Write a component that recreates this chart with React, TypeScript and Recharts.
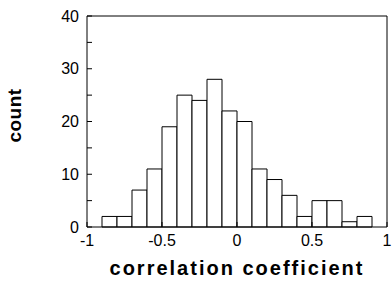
import React from 'react';
import { ComposedChart, Bar, XAxis, YAxis, Label } from 'recharts';

// histogram of correlation coefficients, bins of width 0.1 (bin centres)
const binCenters = [-0.95, -0.85, -0.75, -0.65, -0.55, -0.45, -0.35, -0.25, -0.15, -0.05, 0.05, 0.15, 0.25, 0.35, 0.45, 0.55, 0.65, 0.75, 0.85, 0.95];
const counts = [0, 2, 2, 7, 11, 19, 25, 24, 28, 22, 20, 11, 9, 6, 2, 5, 5, 1, 2, 0];
const xTicks = [-1, -0.5, 0, 0.5, 1];
const yTicks = [0, 5, 10, 15, 20, 25, 30, 35, 40];

const data = binCenters.map((c, i) => ({ x: c, count: counts[i] }));

const tickFont = { fontFamily: 'Liberation Sans, Arial, sans-serif', fontSize: 16, fill: '#000' };
const titleFont = { fontFamily: 'Liberation Sans, Arial, sans-serif', fontSize: 20, fontWeight: 'bold', fill: '#000', letterSpacing: 2 };

export default function App() {
  return (
    <div style={{ position: 'absolute', left: 0, top: 0, background: '#fff' }}>
      <ComposedChart width={392} height={285} data={data} barCategoryGap={0} barGap={0}
        margin={{ top: 15, right: 4, bottom: 0, left: 0 }}>
        <XAxis xAxisId="bottom" dataKey="x" type="number" domain={[-1, 1]} ticks={xTicks} allowDataOverflow
          stroke="#000" tickSize={-5} tickMargin={13} height={58} tick={tickFont} interval={0}
          tickFormatter={(v: number) => String(v)}>
          <Label value="correlation  coefficient" position="insideBottom" offset={10} style={titleFont} />
        </XAxis>
        <XAxis xAxisId="top" dataKey="x" orientation="top" type="number" domain={[-1, 1]} ticks={xTicks}
          allowDataOverflow interval={0} stroke="#000" tickSize={-5} tick={false} height={1} />
        <YAxis yAxisId="left" domain={[0, 40]} ticks={yTicks} interval={0} width={87}
          stroke="#000" tickSize={-5} tickMargin={13} tick={tickFont}
          tickFormatter={(v: number) => (v % 10 === 0 ? String(v) : '')}>
          <Label value="count" angle={-90} position="insideLeft" offset={14} dy={-6}
            style={{ ...titleFont, fontSize: 19, letterSpacing: 0.5, textAnchor: 'middle' }} />
        </YAxis>
        <YAxis yAxisId="right" orientation="right" domain={[0, 40]} ticks={yTicks} interval={0} width={1}
          stroke="#000" tickSize={-5} tick={false} />
        <Bar xAxisId="bottom" yAxisId="left" dataKey="count" fill="#fff" stroke="#000" strokeWidth={1}
          isAnimationActive={false} />
        <Bar xAxisId="top" yAxisId="right" dataKey="count" fill="none" stroke="none"
          isAnimationActive={false} />
      </ComposedChart>
    </div>
  );
}
